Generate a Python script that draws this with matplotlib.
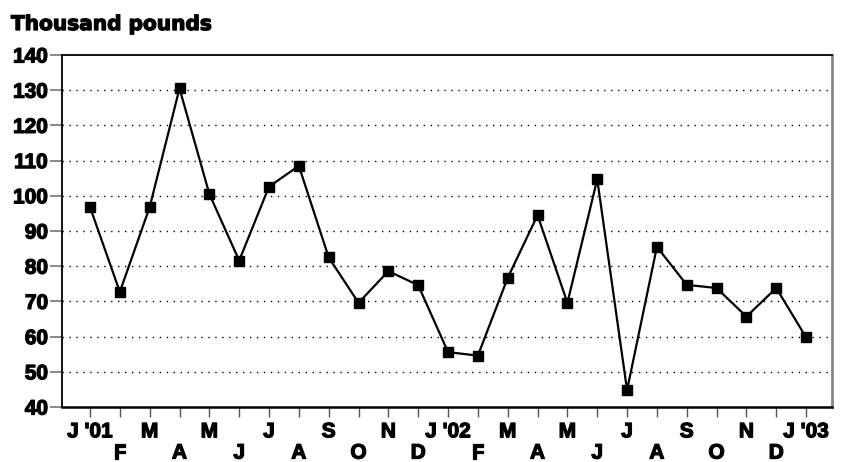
import numpy as np
import matplotlib.pyplot as plt
import matplotlib.patheffects as pe

plt.rcParams['font.family'] = ['Liberation Sans', 'DejaVu Sans']

# Monatswerte Jan 2001 - Jan 2003 (Tausend Pfund)
months = ["J '01", "F", "M", "A", "M", "J", "J", "A", "S", "O", "N", "D",
          "J '02", "F", "M", "A", "M", "J", "J", "A", "S", "O", "N", "D",
          "J '03"]
values = [96.8, 72.7, 96.8, 130.5, 100.5, 81.6, 102.6, 108.5, 82.5, 69.6,
          78.6, 74.6, 55.6, 54.6, 76.7, 94.5, 69.6, 104.7, 44.8, 85.5,
          74.7, 73.8, 65.7, 73.8, 59.8]
yticks = [40, 50, 60, 70, 80, 90, 100, 110, 120, 130, 140]

x = np.arange(len(months))

# etwas dickere Schrift wie im Original
heavy = [pe.withStroke(linewidth=0.9, foreground='black')]

fig = plt.figure(figsize=(8.43, 4.62), dpi=100)
ax = fig.add_axes([0.0735, 0.119, 0.9135, 0.762])

# Gitterlinien gepunktet
for v in yticks[1:-1]:
    ax.axhline(v, color='black', linewidth=1.0, linestyle=(0, (1, 4)), zorder=1)

ax.plot(x, values, color='black', linewidth=1.6, marker='s', markersize=7,
        zorder=3)

ax.set_xlim(-0.94, len(months) - 1 + 0.87)
ax.set_ylim(40, 140)

ax.set_yticks(yticks)
ax.set_yticklabels([str(v) for v in yticks], fontsize=15, fontweight='bold')

# Beschriftungen abwechselnd in zwei Zeilen
labels = [m if i % 2 == 0 else '\n' + m for i, m in enumerate(months)]
ax.set_xticks(x)
ax.set_xticklabels(labels, fontsize=15, fontweight='bold', linespacing=1.15)

for t in ax.get_xticklabels() + ax.get_yticklabels():
    t.set_path_effects(heavy)

ax.tick_params(axis='y', direction='out', length=9, width=1.2, color='#777777', pad=1)
ax.tick_params(axis='x', direction='out', length=7, width=1.0, color='#555555', pad=4)

for side in ['left', 'top', 'bottom']:
    ax.spines[side].set_color('black')
    ax.spines[side].set_linewidth(1.3)
ax.spines['bottom'].set_linewidth(1.8)
ax.spines['right'].set_color('#888888')
ax.spines['right'].set_linewidth(2.0)

fig.text(0.013, 0.935, 'Thousand pounds', fontsize=14.5, fontweight='bold',
         family='DejaVu Sans', ha='left', va='baseline', path_effects=heavy)

fig.savefig('out.png', dpi=100)
